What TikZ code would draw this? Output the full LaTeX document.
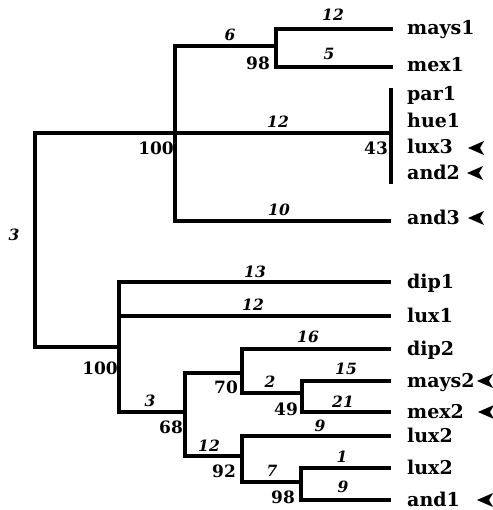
\documentclass[tikz,border=0pt]{standalone}
\usepackage{fontspec}
\setmainfont{DejaVu Serif}
\tikzset{
  branch/.style={line width=3.3pt, line join=miter, line cap=rect},
  taxon/.style={anchor=base west, inner sep=0pt, font=\fontsize{19}{21}\selectfont\bfseries},
  boot/.style={anchor=center, inner sep=0pt, font=\fontsize{17}{19}\selectfont\bfseries},
  blen/.style={anchor=center, inner sep=0pt, font=\fontsize{15.5}{17}\selectfont\bfseries\itshape},
  pics/leftarrowhead/.style={code={\fill (0,0) -- (16,-7) -- (12,0) -- (16,7) -- cycle;}}
}
\begin{document}
\begin{tikzpicture}[x=1pt,y=-1pt]
\useasboundingbox (0,0) rectangle (492,510);
% junction coordinates
\coordinate (rtop) at (35,133);
\coordinate (rbot) at (35,347);
\coordinate (Ain) at (175,133);
\coordinate (Atop) at (175,46);
\coordinate (Abot) at (175,221);
\coordinate (Bin) at (276,46);
\coordinate (Btop) at (276,29);
\coordinate (Bbot) at (276,67);
\coordinate (mays1e) at (391,29);
\coordinate (mex1e) at (391,67);
\coordinate (Pin) at (391,133);
\coordinate (Ptop) at (391,90);
\coordinate (Pbot) at (391,182);
\coordinate (and3e) at (389,221);
\coordinate (Cin) at (119,347);
\coordinate (Ctop) at (119,282);
\coordinate (Cbot) at (119,412);
\coordinate (Cmid) at (119,316);
\coordinate (dip1e) at (389,282);
\coordinate (lux1e) at (389,316);
\coordinate (Din) at (185,412);
\coordinate (Dtop) at (185,373);
\coordinate (Dbot) at (185,456);
\coordinate (Ein) at (242,373);
\coordinate (Etop) at (242,349);
\coordinate (Ebot) at (242,393);
\coordinate (dip2e) at (389,349);
\coordinate (Fin) at (302,393);
\coordinate (Ftop) at (302,381);
\coordinate (Fbot) at (302,412);
\coordinate (mays2e) at (389,381);
\coordinate (mex2e) at (389,412);
\coordinate (Gin) at (242,456);
\coordinate (Gtop) at (242,436);
\coordinate (Gbot) at (242,482);
\coordinate (lux2ae) at (389,436);
\coordinate (Hin) at (301,482);
\coordinate (Htop) at (301,468);
\coordinate (Hbot) at (301,500);
\coordinate (lux2be) at (389,468);
\coordinate (and1e) at (389,500);
% branches
\draw[branch] (Ain) -- (rtop) -- (rbot) -- (Cin);
\draw[branch] (Ain) -- (Pin);
\draw[branch] (Bin) -- (Atop) -- (Abot) -- (and3e);
\draw[branch] (mays1e) -- (Btop) -- (Bbot) -- (mex1e);
\draw[branch] (Ptop) -- (Pbot);
\draw[branch] (dip1e) -- (Ctop) -- (Cbot) -- (Din);
\draw[branch] (Cmid) -- (lux1e);
\draw[branch] (Ein) -- (Dtop) -- (Dbot) -- (Gin);
\draw[branch] (dip2e) -- (Etop) -- (Ebot) -- (Fin);
\draw[branch] (mays2e) -- (Ftop) -- (Fbot) -- (mex2e);
\draw[branch] (lux2ae) -- (Gtop) -- (Gbot) -- (Hin);
\draw[branch] (lux2be) -- (Htop) -- (Hbot) -- (and1e);
% taxa
\node[taxon] (t1) at (407,35) {mays1};
\node[taxon] (t2) at (407,72) {mex1};
\node[taxon] (t3) at (407,101) {par1};
\node[taxon] (t4) at (407,128) {hue1};
\node[taxon] (t5) at (407,154) {lux3};
\node[taxon] (t6) at (407,180) {and2};
\node[taxon] (t7) at (407,225) {and3};
\node[taxon] (t8) at (407,288) {dip1};
\node[taxon] (t9) at (407,322) {lux1};
\node[taxon] (t10) at (407,355) {dip2};
\node[taxon] (t11) at (407,387) {mays2};
\node[taxon] (t12) at (407,418) {mex2};
\node[taxon] (t13) at (407,442) {lux2};
\node[taxon] (t14) at (407,474) {lux2};
\node[taxon] (t15) at (407,506) {and1};
% arrowheads
\pic at (468,148) {leftarrowhead};
\pic at (467,173) {leftarrowhead};
\pic at (468,218) {leftarrowhead};
\pic at (477,381) {leftarrowhead};
\pic at (478,412) {leftarrowhead};
\pic at (477,500) {leftarrowhead};
% bootstrap values
\node[boot] (b1) at (156,148) {100};
\node[boot] (b2) at (258,63) {98};
\node[boot] (b3) at (376,148) {43};
\node[boot] (b4) at (100,368) {100};
\node[boot] (b5) at (171,427) {68};
\node[boot] (b6) at (226,387) {70};
\node[boot] (b7) at (286,409) {49};
\node[boot] (b8) at (224,471) {92};
\node[boot] (b9) at (283,497) {98};
% branch lengths
\node[blen] (l1) at (14,235) {3};
\node[blen] (l2) at (230,35) {6};
\node[blen] (l3) at (333,15) {12};
\node[blen] (l4) at (329,54) {5};
\node[blen] (l5) at (278,122) {12};
\node[blen] (l6) at (279,210) {10};
\node[blen] (l7) at (255,272) {13};
\node[blen] (l8) at (253,305) {12};
\node[blen] (l9) at (150,401) {3};
\node[blen] (l10) at (308,337) {16};
\node[blen] (l11) at (270,382) {2};
\node[blen] (l12) at (346,369) {15};
\node[blen] (l13) at (343,402) {21};
\node[blen] (l14) at (209,446) {12};
\node[blen] (l15) at (320,426) {9};
\node[blen] (l16) at (272,471) {7};
\node[blen] (l17) at (342,457) {1};
\node[blen] (l18) at (343,487) {9};
\end{tikzpicture}
\end{document}
